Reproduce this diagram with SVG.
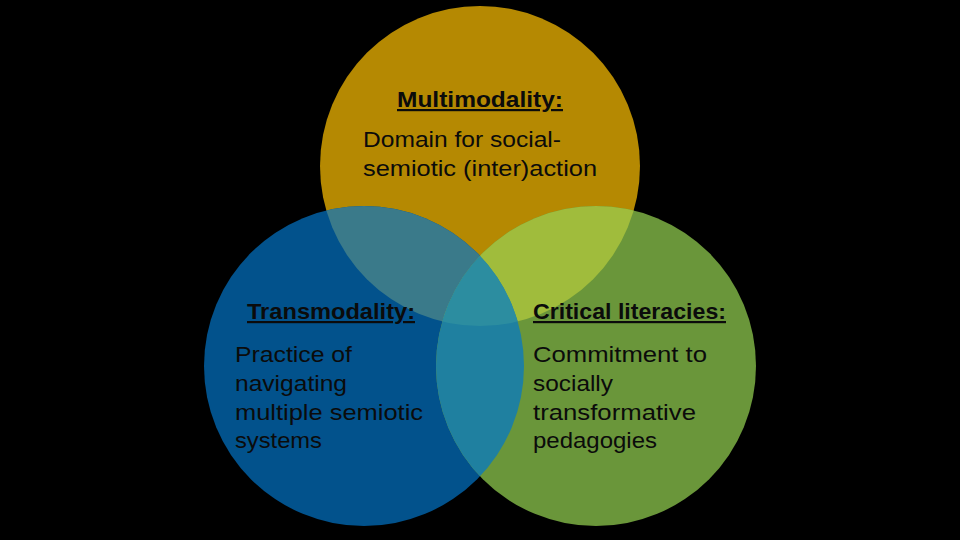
<svg xmlns="http://www.w3.org/2000/svg" width="960" height="540" viewBox="0 0 960 540">
<style>
text{font-family:"Liberation Sans",Arial,sans-serif;font-size:22px;fill:#0b0b0b}
.h{font-weight:bold;text-decoration:underline}
</style>
<defs>
<clipPath id="cTop"><circle cx="480" cy="166" r="160"/></clipPath>
<clipPath id="cBlue"><circle cx="364" cy="366" r="160"/></clipPath>
<clipPath id="cGreen"><circle cx="596" cy="366" r="160"/></clipPath>
</defs>
<rect width="960" height="540" fill="#000"/>
<g id="multimodality">
<circle cx="480" cy="166" r="160" fill="#B58902"/>
</g>
<g id="transmodality">
<circle cx="364" cy="366" r="160" fill="#02528C"/>
</g>
<g id="critical-literacies">
<circle cx="596" cy="366" r="160" fill="#6A963A"/>
</g>
<g id="overlaps">
<circle cx="364" cy="366" r="160" fill="#3A7A8A" clip-path="url(#cTop)"/>
<circle cx="596" cy="366" r="160" fill="#A0BC3C" clip-path="url(#cTop)"/>
<circle cx="596" cy="366" r="160" fill="#1F80A0" clip-path="url(#cBlue)"/>
<g clip-path="url(#cTop)"><circle cx="596" cy="366" r="160" fill="#2C8DA0" clip-path="url(#cBlue)"/></g>
</g>
<g id="labels">
<text class="h" x="397" y="107" textLength="166" lengthAdjust="spacingAndGlyphs">Multimodality:</text>
<text x="363" y="147" textLength="198" lengthAdjust="spacingAndGlyphs">Domain for social-</text>
<text x="363" y="176" textLength="234" lengthAdjust="spacingAndGlyphs">semiotic (inter)action</text>
<text class="h" x="247" y="319" textLength="168" lengthAdjust="spacingAndGlyphs">Transmodality:</text>
<text x="235" y="362" textLength="117" lengthAdjust="spacingAndGlyphs">Practice of</text>
<text x="235" y="391" textLength="112" lengthAdjust="spacingAndGlyphs">navigating</text>
<text x="235" y="420" textLength="188" lengthAdjust="spacingAndGlyphs">multiple semiotic</text>
<text x="235" y="448" textLength="87" lengthAdjust="spacingAndGlyphs">systems</text>
<text class="h" x="533" y="319" textLength="193" lengthAdjust="spacingAndGlyphs">Critical literacies:</text>
<text x="533" y="362" textLength="174" lengthAdjust="spacingAndGlyphs">Commitment to</text>
<text x="533" y="391" textLength="80" lengthAdjust="spacingAndGlyphs">socially</text>
<text x="533" y="420" textLength="163" lengthAdjust="spacingAndGlyphs">transformative</text>
<text x="533" y="448" textLength="124" lengthAdjust="spacingAndGlyphs">pedagogies</text>
</g>
</svg>
